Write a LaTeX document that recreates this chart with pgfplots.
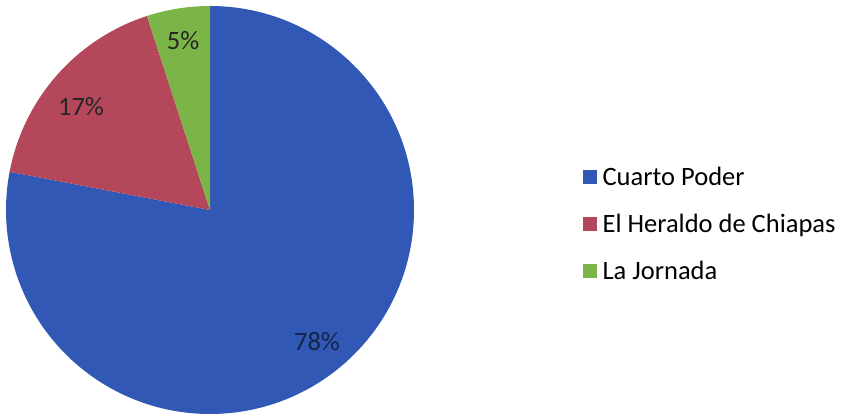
\documentclass[border=0pt]{standalone}
\usepackage{pgfplots}
\pgfplotsset{compat=1.18}
\usepackage{fontspec}
\setmainfont{Carlito}
\definecolor{cpblue}{HTML}{3158B4}
\definecolor{cpred}{HTML}{B4485A}
\definecolor{cpgreen}{HTML}{7BB548}
\begin{document}
\begin{tikzpicture}
\begin{axis}[
  x=1pt, y=1pt, scale only axis,
  xmin=0, xmax=842, ymin=0, ymax=415,
  hide axis, clip=false,
  legend style={at={(axis cs:583,191)}, anchor=west, draw=none, fill=none,
    inner sep=0pt, font=\fontsize{26.5}{31}\selectfont, row sep=23pt,
    /tikz/every odd column/.append style={column sep=4pt},
    legend cell align=left},
  legend image code/.code={\fill[#1] (0pt,-6.5pt) rectangle (13pt,6.5pt);},
]
\path (axis cs:0,0) rectangle (axis cs:842,415);
% pie: values 78, 17, 5 (percent), clockwise from 12 o'clock
\def\R{204}
\fill[cpblue]  (axis cs:210,205) -- ++(90:\R)     arc[start angle=90,     delta angle={-78*3.6}, radius=\R] -- cycle;
\fill[cpred]   (axis cs:210,205) -- ++(-190.8:\R) arc[start angle=-190.8, delta angle={-17*3.6}, radius=\R] -- cycle;
\fill[cpgreen] (axis cs:210,205) -- ++(-252:\R)   arc[start angle=-252,   delta angle={-5*3.6},  radius=\R] -- cycle;
\node[font=\fontsize{26.5}{31}\selectfont, text=black!85] at (axis cs:183,374) {5\%};
\node[font=\fontsize{26.5}{31}\selectfont, text=black!85] at (axis cs:81,308) {17\%};
\node[font=\fontsize{26.5}{31}\selectfont, text=cpblue!40!black] at (axis cs:317,73) {78\%};
\addlegendimage{cpblue}
\addlegendentry{Cuarto Poder}
\addlegendimage{cpred}
\addlegendentry{El Heraldo de Chiapas}
\addlegendimage{cpgreen}
\addlegendentry{La Jornada}
\end{axis}
\end{tikzpicture}
\end{document}
